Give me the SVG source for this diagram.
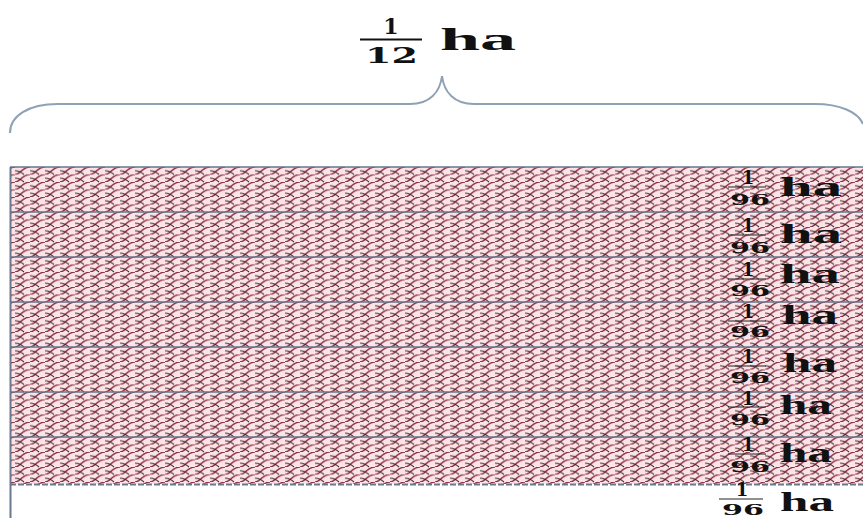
<svg xmlns="http://www.w3.org/2000/svg" width="863" height="518" viewBox="0 0 863 518">
<defs>
<pattern id="shingle" x="0" y="167" width="15" height="7.5" patternUnits="userSpaceOnUse">
<rect width="15" height="7.5" fill="#fbe4e7"/>
<path d="M0,7.5 C5,7.5 7.5,0 15,0 M-15,7.5 C-10,7.5 -7.5,0 0,0 M15,7.5 C20,7.5 22.5,0 30,0" fill="none" stroke="#8c2c40" stroke-width="1.4"/>
<path d="M0,3.75 C4,3.2 6,5 9,7.5 M15,3.75 C19,3.2 21,5 24,7.5 M0,-3.75 C4,-4.3 6,-2.5 9,0" fill="none" stroke="#3a2228" stroke-width="1"/>
</pattern>
<style>
.sep{stroke:#66758c;stroke-width:1.3;fill:none}
.num{font-family:"DejaVu Serif","Liberation Serif",serif;font-weight:bold;fill:#111}
.ha{font-family:"Liberation Serif",serif;font-weight:bold;fill:#111}
.bar{stroke:#222;stroke-width:1.2}
</style>
</defs>
<rect width="863" height="518" fill="#ffffff"/>
<g id="title">
<text class="num" x="391" y="34" font-size="22" text-anchor="middle">1</text>
<line x1="360" y1="39.5" x2="422" y2="39.5" stroke="#111" stroke-width="2.2"/>
<text class="num" x="365" y="63" font-size="22" textLength="53" lengthAdjust="spacingAndGlyphs">12</text>
<text class="ha" x="440" y="50" font-size="32" textLength="76" lengthAdjust="spacingAndGlyphs">ha</text>
</g>
<g id="brace">
<path d="M10,133 C10,116 28,104 58,104 L410,104 C430,104 440,92 442,76 C444,92 454,104 474,104 L815,104 C840,104 858,112 863,124" fill="none" stroke="#8fa2b5" stroke-width="2"/>
</g>
<g id="field">
<rect x="10" y="167" width="860" height="317" fill="url(#shingle)"/>
<line class="sep" x1="10" y1="167" x2="863" y2="167"/>
<line class="sep" x1="10" y1="212" x2="863" y2="212"/>
<line class="sep" x1="10" y1="257" x2="863" y2="257"/>
<line class="sep" x1="10" y1="302" x2="863" y2="302"/>
<line class="sep" x1="10" y1="347" x2="863" y2="347"/>
<line class="sep" x1="10" y1="392" x2="863" y2="392"/>
<line class="sep" x1="10" y1="437" x2="863" y2="437"/>
<line x1="10" y1="484.5" x2="863" y2="484.5" stroke="#6b7890" stroke-width="2" stroke-dasharray="6 2"/>
<line x1="10.5" y1="167" x2="10.5" y2="518" stroke="#6b7890" stroke-width="2"/>
</g>
<g id="labels">
<g id="row1"><text class="num" x="748" y="184" font-size="18" text-anchor="middle">1</text><line class="bar" x1="728" y1="187" x2="766" y2="187"/><text class="num" x="730" y="205" font-size="15" textLength="40" lengthAdjust="spacingAndGlyphs">96</text><text class="ha" x="780" y="196" font-size="27" textLength="62" lengthAdjust="spacingAndGlyphs">ha</text></g>
<g id="row2"><text class="num" x="748" y="232" font-size="18" text-anchor="middle">1</text><line class="bar" x1="728" y1="235" x2="766" y2="235"/><text class="num" x="730" y="253" font-size="15" textLength="40" lengthAdjust="spacingAndGlyphs">96</text><text class="ha" x="780" y="243" font-size="27" textLength="62" lengthAdjust="spacingAndGlyphs">ha</text></g>
<g id="row3"><text class="num" x="748" y="276" font-size="18" text-anchor="middle">1</text><line class="bar" x1="728" y1="279" x2="766" y2="279"/><text class="num" x="730" y="296" font-size="15" textLength="40" lengthAdjust="spacingAndGlyphs">96</text><text class="ha" x="780" y="283" font-size="27" textLength="60" lengthAdjust="spacingAndGlyphs">ha</text></g>
<g id="row4"><text class="num" x="748" y="318" font-size="18" text-anchor="middle">1</text><line class="bar" x1="728" y1="321" x2="766" y2="321"/><text class="num" x="730" y="337" font-size="15" textLength="40" lengthAdjust="spacingAndGlyphs">96</text><text class="ha" x="782" y="324" font-size="27" textLength="56" lengthAdjust="spacingAndGlyphs">ha</text></g>
<g id="row5"><text class="num" x="748" y="363" font-size="18" text-anchor="middle">1</text><line class="bar" x1="728" y1="366" x2="766" y2="366"/><text class="num" x="730" y="383" font-size="15" textLength="40" lengthAdjust="spacingAndGlyphs">96</text><text class="ha" x="783" y="372" font-size="27" textLength="54" lengthAdjust="spacingAndGlyphs">ha</text></g>
<g id="row6"><text class="num" x="748" y="405" font-size="18" text-anchor="middle">1</text><line class="bar" x1="728" y1="407" x2="766" y2="407"/><text class="num" x="730" y="425" font-size="15" textLength="40" lengthAdjust="spacingAndGlyphs">96</text><text class="ha" x="780" y="414" font-size="27" textLength="52" lengthAdjust="spacingAndGlyphs">ha</text></g>
<g id="row7"><text class="num" x="748" y="451" font-size="18" text-anchor="middle">1</text><line class="bar" x1="728" y1="454" x2="766" y2="454"/><text class="num" x="730" y="472" font-size="15" textLength="40" lengthAdjust="spacingAndGlyphs">96</text><text class="ha" x="780" y="462" font-size="27" textLength="52" lengthAdjust="spacingAndGlyphs">ha</text></g>
<g id="row8"><text class="num" x="742" y="496" font-size="18" text-anchor="middle">1</text><line class="bar" x1="719" y1="499" x2="763" y2="499"/><text class="num" x="722" y="515" font-size="15" textLength="42" lengthAdjust="spacingAndGlyphs">96</text><text class="ha" x="780" y="511" font-size="28" textLength="54" lengthAdjust="spacingAndGlyphs">ha</text></g>
</g>
</svg>
